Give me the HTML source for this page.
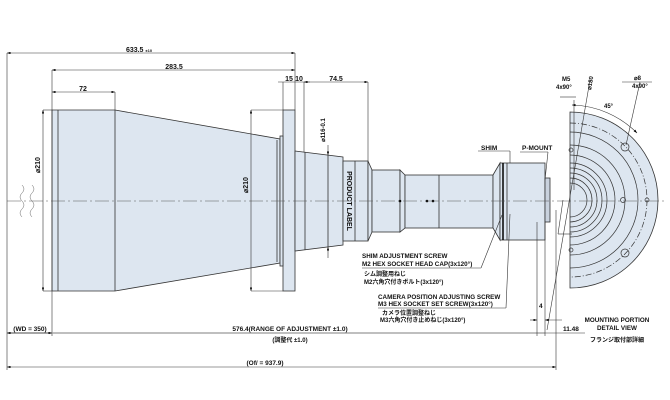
<!DOCTYPE html>
<html><head><meta charset="utf-8"><style>
html,body{margin:0;padding:0;background:#fff;}
svg{display:block;font-family:"Liberation Sans","Noto Sans CJK JP",sans-serif;font-weight:bold;}
</style></head><body>
<svg width="670" height="400" viewBox="0 0 670 400" xmlns="http://www.w3.org/2000/svg">
<defs>
<marker id="a" markerWidth="6" markerHeight="4" refX="6" refY="2" orient="auto-start-reverse"><path d="M0,0 L6,2 L0,4z" fill="#000"/></marker>
</defs>
<g stroke="#333" stroke-width="0.8" fill="#dde6f0">
<path d="M52,110 L115,110 L280,139 L280,263 L115,291 L52,291 Z"/>
<line x1="58" y1="110" x2="58" y2="291"/>
<line x1="115" y1="110" x2="115" y2="291"/>
<line x1="277" y1="140" x2="277" y2="262"/>
<rect x="283" y="110" width="12" height="181"/>
<rect x="280" y="136" width="3" height="130"/>
<path d="M295,151 L343,157 L343,245 L295,251 Z"/>
<line x1="305" y1="152" x2="305" y2="250"/>
<line x1="328" y1="155" x2="328" y2="247"/>
<rect x="343" y="161" width="25" height="80"/>
<line x1="355" y1="161" x2="355" y2="241"/>
<path d="M368,161 L372,170 L372,232 L368,241Z"/>
<rect x="372" y="170" width="28" height="62"/>
<path d="M400,170 L405,175 L405,228 L400,232Z"/>
<rect x="405" y="175" width="88" height="53"/>
<line x1="439" y1="175" x2="439" y2="228"/>
<path d="M493,175 L500,163 L500,240 L493,228Z"/>
<rect x="500" y="163" width="45" height="77"/>
<line x1="507" y1="163" x2="507" y2="240"/>
<line x1="503" y1="163" x2="503" y2="240" stroke="#000" stroke-width="1.5"/>
<rect x="545" y="178" width="5" height="44" fill="#c9d2de"/>
<path d="M570,112 A88,88 0 0 1 570,288 Z"/>
</g>
<g fill="none" stroke="#333" stroke-width="0.7">
<path d="M570,145 A55,55 0 0 1 570,255"/>
<path d="M570,155 A45,45 0 0 1 570,245"/>
<path d="M570,163 A37,37 0 0 1 570,237"/>
<path d="M570,168 A32,32 0 0 1 570,232"/>
<path d="M570,173 A27,27 0 0 1 570,227"/>
<path d="M570,178 A22,22 0 0 1 570,222"/>
<path d="M570,183 A17,17 0 0 1 570,217"/>
<path d="M570,132 A68,68 0 0 1 570,268"/>
<path d="M570,123 A77,77 0 0 1 570,277" stroke-dasharray="6,2,1,2"/>
<circle cx="625" cy="147" r="4"/><circle cx="625" cy="253" r="4"/>
<circle cx="623" cy="200" r="2.5"/><circle cx="647" cy="200" r="2"/>
<circle cx="571" cy="150" r="2"/><circle cx="571" cy="250" r="2"/>
</g>
<g fill="#000"><circle cx="400" cy="201" r="1.3"/><circle cx="427" cy="201" r="1.3"/><circle cx="433" cy="201" r="1.3"/></g>
<line x1="7" y1="201" x2="665" y2="201" stroke="#555" stroke-width="0.5" stroke-dasharray="14,3,2,3"/>
<g fill="none" stroke="#666" stroke-width="0.5">
<path d="M22,185 q4,4 0,8 q-4,4 0,8 q4,4 0,8 q-4,4 0,8"/>
<path d="M32,185 q4,4 0,8 q-4,4 0,8 q4,4 0,8 q-4,4 0,8"/>
</g>
<g stroke="#333" stroke-width="0.6" fill="none">
<line x1="7" y1="53" x2="295" y2="53" marker-start="url(#a)" marker-end="url(#a)"/>
<line x1="7" y1="53" x2="7" y2="370"/>
<line x1="295" y1="53" x2="295" y2="110"/>
<line x1="52" y1="70" x2="295" y2="70" marker-start="url(#a)" marker-end="url(#a)"/>
<line x1="52" y1="70" x2="52" y2="336"/>
<line x1="52" y1="92" x2="115" y2="92" marker-start="url(#a)" marker-end="url(#a)"/>
<line x1="115" y1="92" x2="115" y2="110"/>
<line x1="283" y1="82" x2="283" y2="110"/>
<line x1="304" y1="82" x2="304" y2="152"/>
<line x1="278" y1="82" x2="310" y2="82"/>
<line x1="304" y1="82" x2="368" y2="82" marker-start="url(#a)" marker-end="url(#a)"/>
<line x1="368" y1="82" x2="368" y2="161"/>
<line x1="43" y1="110" x2="43" y2="291" marker-start="url(#a)" marker-end="url(#a)"/>
<line x1="43" y1="110" x2="52" y2="110"/><line x1="43" y1="291" x2="52" y2="291"/>
<line x1="251" y1="110" x2="251" y2="291" marker-start="url(#a)" marker-end="url(#a)"/>
<line x1="251" y1="110" x2="283" y2="110"/><line x1="251" y1="291" x2="283" y2="291"/>
<line x1="328" y1="145" x2="328" y2="155" marker-end="url(#a)"/>
<line x1="328" y1="258" x2="328" y2="247" marker-end="url(#a)"/>
<line x1="7" y1="333" x2="545" y2="333" stroke="#999" stroke-width="1.3"/>
<line x1="7" y1="333" x2="52" y2="333" marker-start="url(#a)" marker-end="url(#a)"/>
<line x1="7" y1="367" x2="556" y2="367" marker-start="url(#a)" marker-end="url(#a)"/>
<line x1="537" y1="222" x2="537" y2="336"/>
<line x1="545" y1="222" x2="545" y2="336"/>
<line x1="556" y1="210" x2="556" y2="370"/>
<line x1="530" y1="320" x2="537" y2="320" marker-end="url(#a)"/>
<line x1="562" y1="320" x2="545" y2="320" marker-end="url(#a)"/>
<line x1="545" y1="333" x2="585" y2="333"/>
<line x1="510" y1="151" x2="510" y2="163"/>
<line x1="478" y1="151" x2="510" y2="151"/>
<line x1="520" y1="152" x2="548" y2="152"/>
<line x1="548" y1="152" x2="545" y2="180"/>
<line x1="502" y1="215" x2="481" y2="268"/><line x1="362" y1="268" x2="481" y2="268"/>
<line x1="510" y1="214" x2="506" y2="308"/><line x1="378" y1="308" x2="506" y2="308"/>
<line x1="590" y1="80" x2="547" y2="330"/>
<line x1="574" y1="100" x2="574" y2="190"/>
<line x1="560" y1="97" x2="576" y2="97"/>
<path d="M572,105 A95,95 0 0 1 637,133" marker-start="url(#a)" marker-end="url(#a)"/>
<line x1="640" y1="82" x2="626" y2="145"/><line x1="622" y1="82" x2="652" y2="82"/>
<line x1="558" y1="234" x2="572" y2="234"/><line x1="558" y1="234" x2="563" y2="200"/>
</g>
<g font-size="7" fill="#111">
<text x="139" y="52" text-anchor="middle">633.5 <tspan font-size="4">±10</tspan></text>
<text x="174" y="69" text-anchor="middle">283.5</text>
<text x="83" y="91" text-anchor="middle">72</text>
<text x="289" y="81" text-anchor="middle">15</text><text x="299" y="81" text-anchor="middle">10</text>
<text x="336" y="81" text-anchor="middle">74.5</text>
<text transform="translate(40,165) rotate(-90)" text-anchor="middle">⌀210</text>
<text transform="translate(248,185) rotate(-90)" text-anchor="middle">⌀210</text>
<text transform="translate(325,130) rotate(-90)" text-anchor="middle" font-size="6">⌀116-0.1</text>
<text transform="translate(347,201) rotate(90)" text-anchor="middle">PRODUCT LABEL</text>
<text x="481" y="150" font-size="6.5">SHIM</text>
<text x="522" y="150" font-size="6.5">P-MOUNT</text>
<text x="562" y="81" font-size="6">M5</text><text x="556" y="89" font-size="6">4x90°</text>
<text transform="translate(591,90) rotate(-80)" font-size="6">⌀180</text>
<text x="604" y="108" font-size="6">45°</text>
<text x="634" y="80" font-size="6">⌀8</text><text x="632" y="88" font-size="6">4x90°</text>
<text x="362" y="258" font-size="6.3">SHIM ADJUSTMENT SCREW</text>
<text x="362" y="266" font-size="6.3">M2 HEX SOCKET HEAD CAP(3x120°)</text>
<text x="364" y="276" font-size="6">シム調整用ねじ</text>
<text x="364" y="284" font-size="6">M2六角穴付きボルト(3x120°)</text>
<text x="378" y="299" font-size="6.3">CAMERA POSITION ADJUSTING SCREW</text>
<text x="378" y="306" font-size="6.3">M3 HEX SOCKET SET SCREW(3x120°)</text>
<text x="382" y="315" font-size="6">カメラ位置調整ねじ</text>
<text x="380" y="322" font-size="6">M3六角穴付き止めねじ(3x120°)</text>
<text x="539" y="308" font-size="6.5">4</text>
<text x="563" y="331" font-size="6.5">11.48</text>
<text x="617" y="322" font-size="6.3" text-anchor="middle">MOUNTING PORTION</text>
<text x="617" y="330" font-size="6.3" text-anchor="middle">DETAIL VIEW</text>
<text x="617" y="342" font-size="6" text-anchor="middle">フランジ取付部詳細</text>
<text x="30" y="331" font-size="6.5" text-anchor="middle">(WD = 350)</text>
<text x="290" y="331" font-size="6.5" text-anchor="middle">576.4(RANGE OF ADJUSTMENT ±1.0)</text>
<text x="290" y="342" font-size="6" text-anchor="middle">(調整代 ±1.0)</text>
<text x="265" y="365" font-size="6.5" text-anchor="middle">(Of/ = 937.9)</text>
</g>
</svg>
</body></html>
